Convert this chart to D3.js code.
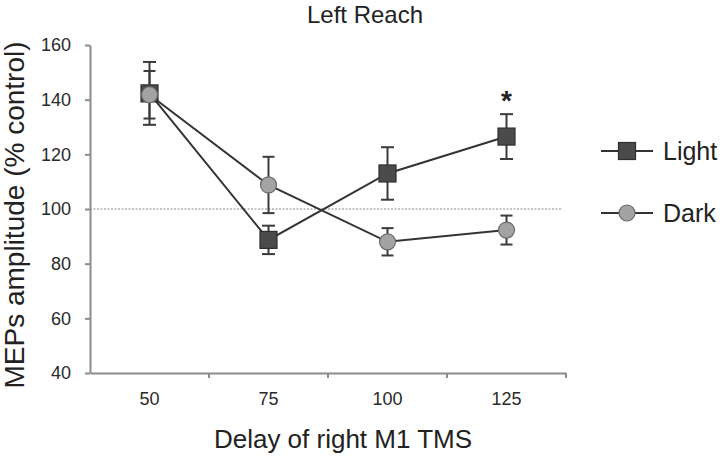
<!DOCTYPE html>
<html>
<head>
<meta charset="utf-8">
<script src="https://cdn.jsdelivr.net/npm/d3@7"></script>
<style>
  html, body { margin: 0; padding: 0; background: #fff; }
  svg { display: block; font-family: "Liberation Sans", Arial, sans-serif; }
</style>
</head>
<body>
<svg id="chart" width="720" height="456"></svg>
<script>
const categories = ["50", "75", "100", "125"];
const lightMean = [142.3, 88.7, 113.0, 126.5];
const lightErr  = [11.5, 5.2, 9.6, 8.2];
const darkMean  = [141.8, 108.8, 88.0, 92.3];
const darkErr   = [8.7, 10.3, 5.0, 5.3];
const yTicks = [40, 60, 80, 100, 120, 140, 160];
const seriesNames = ["Light", "Dark"];
const significant = ["125"];

(function () {
const svg = d3.select("#chart");
const mLeft = 90, mRight = 566, mTop = 45, mBottom = 373;

const x = d3.scaleBand().domain(categories).range([mLeft, mRight]);
const y = d3.scaleLinear().domain([40, 160]).range([mBottom, mTop]);
const cx = c => x(c) + x.bandwidth() / 2;

const axisColor = "#8c8c8c";
const inkColor = "#333";

// Title
svg.append("text").attr("x", 365).attr("y", 23).attr("text-anchor", "middle")
  .attr("font-size", 24).attr("fill", "#222").text("Left Reach");

// Reference dotted line at 100
svg.append("line")
  .attr("x1", mLeft).attr("x2", 561)
  .attr("y1", y(100)).attr("y2", y(100))
  .attr("stroke", "#8a8a8a").attr("stroke-width", 1.2)
  .attr("stroke-dasharray", "2,1.5");

// Y axis
const yAxis = svg.append("g").attr("transform", `translate(${mLeft},0)`)
  .call(d3.axisLeft(y).tickValues(yTicks).tickSize(5).tickSizeOuter(0).tickPadding(14));
yAxis.select(".domain").attr("stroke", axisColor).attr("stroke-width", 2);
yAxis.selectAll(".tick line").attr("stroke", axisColor).attr("stroke-width", 2);
yAxis.selectAll(".tick text").attr("font-size", 18).attr("fill", "#2a2a2a")
  .attr("font-family", "Liberation Sans, Arial, sans-serif");

// X axis (labels at band centers, ticks at band boundaries)
const xAxis = svg.append("g").attr("transform", `translate(0,${mBottom})`)
  .call(d3.axisBottom(x).tickSize(0).tickSizeOuter(0).tickPadding(19));
xAxis.select(".domain").attr("stroke", axisColor).attr("stroke-width", 2);
xAxis.selectAll(".tick text").attr("font-size", 18).attr("fill", "#2a2a2a")
  .attr("font-family", "Liberation Sans, Arial, sans-serif");
const bounds = categories.slice(1).map(c => x(c)).concat([x.range()[1]]);
svg.append("g").selectAll("line").data(bounds).join("line")
  .attr("x1", d => d).attr("x2", d => d)
  .attr("y1", mBottom).attr("y2", mBottom + 5)
  .attr("stroke", axisColor).attr("stroke-width", 2);

// Axis titles
svg.append("text").attr("x", 343).attr("y", 448).attr("text-anchor", "middle")
  .attr("font-size", 26).attr("fill", "#222").text("Delay of right M1 TMS");
svg.append("text").attr("transform", "translate(24,215) rotate(-90)")
  .attr("text-anchor", "middle").attr("font-size", 28).attr("fill", "#222")
  .text("MEPs amplitude (% control)");

const line = d3.line().x(d => cx(d.c)).y(d => y(d.v));
const lightData = categories.map((c, i) => ({ c, v: lightMean[i], e: lightErr[i] }));
const darkData = categories.map((c, i) => ({ c, v: darkMean[i], e: darkErr[i] }));

function drawErr(g, data, cap) {
  const eg = g.append("g").attr("stroke", "#3a3a3a").attr("stroke-width", 2);
  data.forEach(d => {
    const xc = cx(d.c);
    eg.append("line").attr("x1", xc).attr("x2", xc).attr("y1", y(d.v + d.e)).attr("y2", y(d.v - d.e));
    eg.append("line").attr("x1", xc - cap / 2).attr("x2", xc + cap / 2).attr("y1", y(d.v + d.e)).attr("y2", y(d.v + d.e));
    eg.append("line").attr("x1", xc - cap / 2).attr("x2", xc + cap / 2).attr("y1", y(d.v - d.e)).attr("y2", y(d.v - d.e));
  });
}

// Light series
const gL = svg.append("g");
gL.append("path").datum(lightData).attr("d", line).attr("fill", "none")
  .attr("stroke", inkColor).attr("stroke-width", 2);
drawErr(gL, lightData, 13);
const sq = 17;
gL.selectAll("rect").data(lightData).join("rect")
  .attr("x", d => cx(d.c) - sq / 2).attr("y", d => y(d.v) - sq / 2)
  .attr("width", sq).attr("height", sq)
  .attr("fill", "#4b4b4b").attr("stroke", "#2e2e2e").attr("stroke-width", 1.2);

// Dark series
const gD = svg.append("g");
gD.append("path").datum(darkData).attr("d", line).attr("fill", "none")
  .attr("stroke", inkColor).attr("stroke-width", 2);
drawErr(gD, darkData, 12);
gD.selectAll("circle").data(darkData).join("circle")
  .attr("cx", d => cx(d.c)).attr("cy", d => y(d.v)).attr("r", 8)
  .attr("fill", "#a3a3a3").attr("stroke", "#6a6a6a").attr("stroke-width", 1.2);

// Significance marker
significant.forEach(c => {
  const i = categories.indexOf(c);
  svg.append("text").attr("x", cx(c)).attr("y", y(lightMean[i] + lightErr[i]) - 4)
    .attr("text-anchor", "middle").attr("font-size", 28).attr("font-weight", "bold")
    .attr("fill", "#222").text("*");
});

// Legend
const legY = [151, 213];
seriesNames.forEach((name, i) => {
  const g = svg.append("g").attr("transform", `translate(0,${legY[i]})`);
  g.append("line").attr("x1", 601).attr("x2", 653).attr("y1", 0).attr("y2", 0)
    .attr("stroke", inkColor).attr("stroke-width", 2);
  if (i === 0) {
    g.append("rect").attr("x", 627 - sq / 2).attr("y", -sq / 2).attr("width", sq).attr("height", sq)
      .attr("fill", "#4b4b4b").attr("stroke", "#2e2e2e").attr("stroke-width", 1.2);
  } else {
    g.append("circle").attr("cx", 627).attr("cy", 0).attr("r", 8)
      .attr("fill", "#a3a3a3").attr("stroke", "#6a6a6a").attr("stroke-width", 1.2);
  }
  g.append("text").attr("x", 663).attr("y", 9).attr("font-size", 25).attr("fill", "#222").text(name);
});
})();
</script>
</body>
</html>
